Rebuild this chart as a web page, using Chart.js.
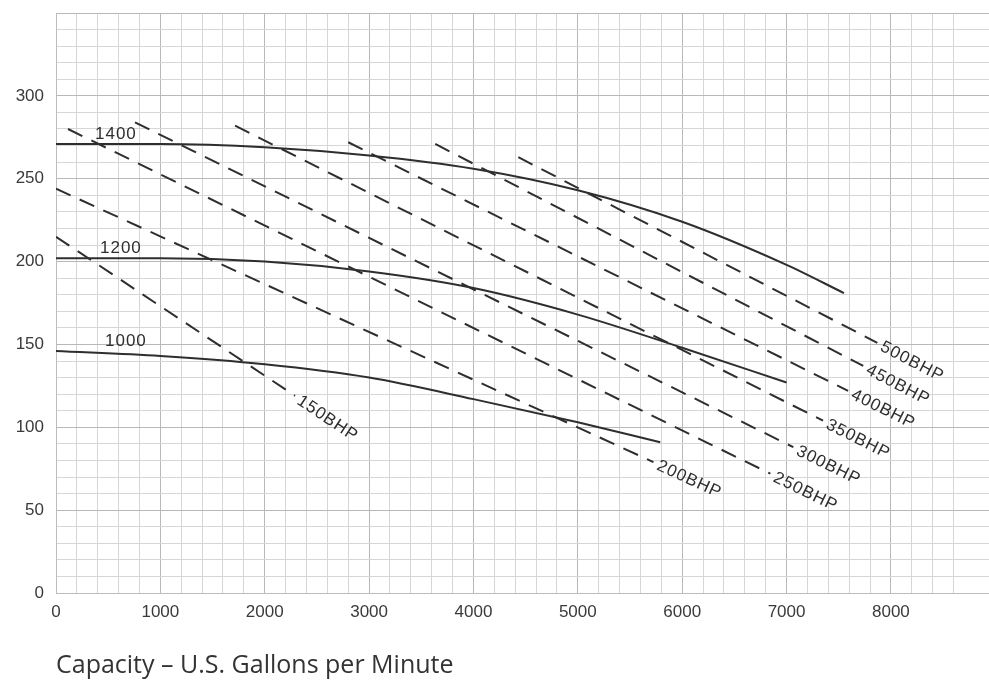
<!DOCTYPE html>
<html>
<head>
<meta charset="utf-8">
<script src="https://cdn.jsdelivr.net/npm/chart.js@4"></script>
<style>
  body { margin: 0; background: #fff; }
  #wrap { width: 989px; height: 683px; }
</style>
</head>
<body>
<div id="wrap"><canvas id="pumpChart" width="989" height="683"></canvas></div>
<script>
// head curves (ft) per speed, capacity in US gpm
const rpmLabels = ["1400", "1200", "1000"];
const gpm1400 = [0, 1000, 2000, 3000, 4000, 5000, 6000, 7000, 7550];
const head1400 = [271, 271, 269, 264, 256, 243, 224, 198, 181];
const gpm1200 = [0, 1000, 2000, 3000, 4000, 5000, 6000, 7000];
const head1200 = [202, 202, 200, 194, 184, 168, 148, 127];
const gpm1000 = [0, 1000, 2000, 3000, 4000, 5000, 5790];
const head1000 = [146, 143, 138, 130, 117, 103, 91];

// brake horsepower lines (start / end points)
const bhpLabels = ["150BHP", "200BHP", "250BHP", "300BHP", "350BHP", "400BHP", "450BHP", "500BHP"];
const bhpStartGpm = [0, 0, 115, 757, 1716, 2800, 3634, 4430];
const bhpStartHead = [215, 244, 280, 284, 282, 272, 271, 263];
const bhpEndGpm = [2290, 5725, 6845, 7065, 7350, 7590, 7735, 7870];
const bhpEndHead = [119, 79, 72, 88, 104, 122, 137, 151];

const xTickLabels = ["0", "1000", "2000", "3000", "4000", "5000", "6000", "7000", "8000"];
const yTickLabels = ["0", "50", "100", "150", "200", "250", "300"];

const ink = "#2e2e2e";
const toPts = (xs, ys) => xs.map((x, i) => ({ x: x, y: ys[i] }));

const headSets = [
  [gpm1400, head1400],
  [gpm1200, head1200],
  [gpm1000, head1000],
].map((c, i) => ({
  label: rpmLabels[i],
  data: toPts(c[0], c[1]),
  borderColor: ink,
  borderWidth: 2,
  pointRadius: 0,
  showLine: true,
  cubicInterpolationMode: "monotone",
  rpm: true,
}));

const bhpSets = bhpLabels.map((lab, i) => ({
  label: lab,
  data: [
    { x: bhpStartGpm[i], y: bhpStartHead[i] },
    { x: bhpEndGpm[i], y: bhpEndHead[i] },
  ],
  borderColor: ink,
  borderWidth: 2,
  borderDash: [16, 10],
  pointRadius: 0,
  showLine: true,
  bhp: true,
}));

// writes the speed and BHP names next to their lines
const lineLabels = {
  id: "lineLabels",
  afterDatasetsDraw(chart, args, opts) {
    const ctx = chart.ctx;
    const xs = chart.scales.x, ys = chart.scales.y;
    ctx.save();
    ctx.fillStyle = ink;
    ctx.font = "17px 'Liberation Sans', Arial, sans-serif";
    ctx.letterSpacing = "1px";
    chart.data.datasets.forEach((ds, i) => {
      if (ds.rpm) {
        const p = ds.data[0];
        ctx.textAlign = "left";
        ctx.textBaseline = "bottom";
        ctx.fillText(ds.label, xs.getPixelForValue(p.x) + opts.rpmOffsets[i], ys.getPixelForValue(p.y) - 1);
      } else if (ds.bhp) {
        const a = ds.data[0], b = ds.data[1];
        const ax = xs.getPixelForValue(a.x), ay = ys.getPixelForValue(a.y);
        const bx = xs.getPixelForValue(b.x), by = ys.getPixelForValue(b.y);
        const ang = Math.atan2(by - ay, bx - ax);
        ctx.save();
        ctx.translate(bx, by);
        ctx.rotate(ang);
        ctx.textAlign = "left";
        ctx.textBaseline = "middle";
        ctx.fillText(ds.label, 5, 1);
        ctx.restore();
      }
    });
    ctx.restore();
  },
};

new Chart(document.getElementById("pumpChart"), {
  type: "scatter",
  data: { datasets: headSets.concat(bhpSets) },
  plugins: [lineLabels],
  options: {
    responsive: false,
    animation: false,
    layout: { padding: { top: 13, right: 0, left: 0, bottom: 0 } },
    plugins: {
      legend: { display: false },
      tooltip: { enabled: false },
      lineLabels: { rpmOffsets: [39, 44, 49] },
    },
    scales: {
      x: {
        type: "linear",
        min: 0,
        max: 8940,
        afterFit: (s) => { s.height = 90; s.paddingLeft = 0; s.paddingRight = 0; },
        border: { color: "#bdbdbd" },
        grid: {
          drawTicks: false,
          color: (c) => (c.tick && c.tick.value % 1000 === 0 ? "#b8b8b8" : "#d6d6d6"),
        },
        ticks: {
          stepSize: 200,
          autoSkip: false,
          maxRotation: 0,
          padding: 9,
          color: "#3a3a3a",
          font: { family: "'Liberation Sans', Arial, sans-serif", size: 17 },
          callback: (v) => xTickLabels[xTickLabels.indexOf(String(v))] || "",
        },
        title: {
          display: true,
          text: "Capacity \u2013 U.S. Gallons per Minute",
          align: "start",
          color: "#333",
          font: { family: "'Open Sans', sans-serif", size: 25 },
          padding: { top: 0, bottom: 2 },
        },
      },
      y: {
        type: "linear",
        min: 0,
        max: 350,
        afterFit: (s) => { s.width = 56; s.paddingTop = 0; s.paddingBottom = 0; },
        border: { color: "#bdbdbd" },
        grid: {
          drawTicks: false,
          color: (c) => (c.tick && c.tick.value % 50 === 0 ? "#b8b8b8" : "#d6d6d6"),
        },
        ticks: {
          stepSize: 10,
          autoSkip: false,
          padding: 12,
          color: "#3a3a3a",
          font: { family: "'Liberation Sans', Arial, sans-serif", size: 17 },
          callback: (v) => yTickLabels[yTickLabels.indexOf(String(v))] || "",
        },
      },
    },
  },
});
</script>
</body>
</html>
